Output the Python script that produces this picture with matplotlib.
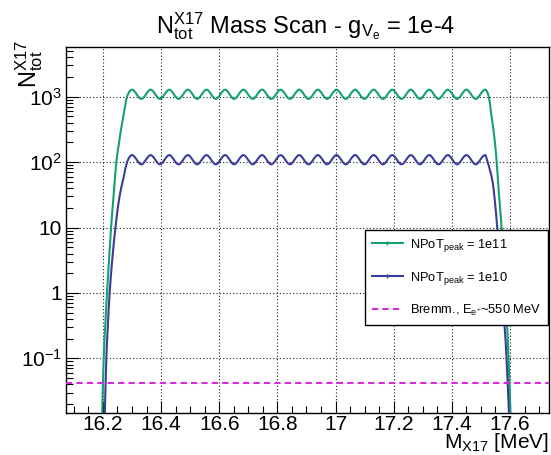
import matplotlib
matplotlib.use("Agg")
import matplotlib.pyplot as plt
import numpy as np
from matplotlib.path import Path
from matplotlib.patches import PathPatch
from matplotlib.lines import Line2D
from matplotlib.ticker import FixedLocator, FixedFormatter, MultipleLocator, LogLocator, NullFormatter

plt.rcParams["font.family"] = ["Liberation Sans", "DejaVu Sans"]
plt.rcParams["mathtext.fontset"] = "custom"
plt.rcParams["mathtext.rm"] = "Liberation Sans"
plt.rcParams["mathtext.it"] = "Liberation Sans:italic"
plt.rcParams["mathtext.default"] = "regular"

# ripple extrema (MeV), same for both NPoT settings
peak_x = [16.300, 16.364, 16.428, 16.492, 16.556, 16.620, 16.683, 16.747, 16.811, 16.875,
          16.939, 17.003, 17.067, 17.131, 17.195, 17.259, 17.322, 17.386, 17.450, 17.514]
trough_x = [16.332, 16.396, 16.460, 16.524, 16.588, 16.651, 16.715, 16.779, 16.843, 16.907,
            16.971, 17.035, 17.099, 17.163, 17.227, 17.290, 17.354, 17.418, 17.482]

# NPoT_peak = 1e11
green_peak_y = [1280, 1280, 1280, 1280, 1280, 1280, 1280, 1280, 1280, 1280,
                1280, 1280, 1280, 1280, 1280, 1280, 1280, 1280, 1280, 1280]
green_trough_y = [925, 925, 925, 925, 925, 925, 925, 925, 925, 925,
                  925, 925, 925, 925, 925, 925, 925, 925, 925]
green_rise_x = [16.197, 16.2025, 16.208, 16.214, 16.221, 16.228, 16.237, 16.246, 16.254,
                16.262, 16.272, 16.283]
green_rise_y = [0.012, 0.1, 0.32, 1, 3.2, 10, 32, 100, 180, 310, 560, 1000]
green_fall_x = [17.527, 17.535, 17.543, 17.549, 17.554, 17.562, 17.571, 17.578, 17.584,
                17.590, 17.595, 17.602]
green_fall_y = [1000, 560, 310, 180, 100, 32, 10, 3.2, 1, 0.32, 0.1, 0.012]

# NPoT_peak = 1e10
blue_peak_y = [128, 128, 128, 128, 128, 128, 128, 128, 128, 128,
               128, 128, 128, 128, 128, 128, 128, 128, 128, 128]
blue_trough_y = [92.5, 92.5, 92.5, 92.5, 92.5, 92.5, 92.5, 92.5, 92.5, 92.5,
                 92.5, 92.5, 92.5, 92.5, 92.5, 92.5, 92.5, 92.5, 92.5]
blue_rise_x = [16.206, 16.2117, 16.217, 16.223, 16.232, 16.243, 16.256, 16.271, 16.283]
blue_rise_y = [0.012, 0.1, 0.32, 1, 3.2, 10, 28, 58, 100]
blue_fall_x = [17.523, 17.531, 17.540, 17.548, 17.556, 17.565, 17.573, 17.581, 17.588, 17.597]
blue_fall_y = [100, 75, 50, 25, 10, 3.2, 1, 0.32, 0.1, 0.012]

# bremsstrahlung background, E_e+ ~ 550 MeV
bremm_level = 0.0415

x_ticks = [16.2, 16.4, 16.6, 16.8, 17.0, 17.2, 17.4, 17.6]
x_tick_labels = ["16.2", "16.4", "16.6", "16.8", "17", "17.2", "17.4", "17.6"]
y_ticks = [0.1, 1, 10, 100, 1000]
y_tick_labels = ["$10^{-1}$", "1", "10", "$10^{2}$", "$10^{3}$"]

GREEN = "#14a070"
BLUE = "#3b3b9e"
MAGENTA = "#d92ad9"


def scan_curve(rise_x, rise_y, pk_y, tr_y, fall_x, fall_y):
    """Join edges and ripple extrema; flag extrema (flat tangent)."""
    xs, ys, flat = list(rise_x), list(rise_y), [False] * len(rise_x)
    for i in range(len(peak_x)):
        xs.append(peak_x[i]); ys.append(pk_y[i]); flat.append(True)
        if i < len(trough_x):
            xs.append(trough_x[i]); ys.append(tr_y[i]); flat.append(True)
    xs += list(fall_x); ys += list(fall_y); flat += [False] * len(fall_x)
    return np.array(xs), np.array(ys), np.array(flat)


def smooth_path(xs, ys, flat):
    """Cubic bezier path through the points (hermite tangents in log y)."""
    ly = np.log10(ys)
    n = len(xs)
    m = np.zeros(n)
    for i in range(n):
        if flat[i]:
            continue
        a, b = max(i - 1, 0), min(i + 1, n - 1)
        m[i] = (ly[b] - ly[a]) / (xs[b] - xs[a])
    verts = [(xs[0], ys[0])]
    codes = [Path.MOVETO]
    for i in range(n - 1):
        dx = xs[i + 1] - xs[i]
        c1 = (xs[i] + dx / 3, 10 ** (ly[i] + m[i] * dx / 3))
        c2 = (xs[i + 1] - dx / 3, 10 ** (ly[i + 1] - m[i + 1] * dx / 3))
        verts += [c1, c2, (xs[i + 1], ys[i + 1])]
        codes += [Path.CURVE4] * 3
    return Path(verts, codes)


fig = plt.figure(figsize=(5.51, 4.55), dpi=100)
ax = fig.add_axes([0.1198, 0.0923, 0.8771, 0.8044])
ax.set_yscale("log")
ax.set_xlim(16.073, 17.735)
ax.set_ylim(0.0146, 5750)

for rx, ry, py, ty, fx, fy, col in [
        (green_rise_x, green_rise_y, green_peak_y, green_trough_y, green_fall_x, green_fall_y, GREEN),
        (blue_rise_x, blue_rise_y, blue_peak_y, blue_trough_y, blue_fall_x, blue_fall_y, BLUE)]:
    xs, ys, flat = scan_curve(rx, ry, py, ty, fx, fy)
    ax.add_patch(PathPatch(smooth_path(xs, ys, flat), fill=False, edgecolor=col,
                           linewidth=1.5, zorder=3))

ax.axhline(bremm_level, color=MAGENTA, linewidth=1.5, linestyle=(0, (3, 2)), zorder=3)

# ROOT-like axes
ax.xaxis.set_major_locator(FixedLocator(x_ticks))
ax.xaxis.set_major_formatter(FixedFormatter(x_tick_labels))
ax.xaxis.set_minor_locator(MultipleLocator(0.05))
ax.yaxis.set_major_locator(FixedLocator(y_ticks))
ax.yaxis.set_major_formatter(FixedFormatter(y_tick_labels))
ax.yaxis.set_minor_locator(LogLocator(base=10, subs=np.arange(2, 10), numticks=20))
ax.yaxis.set_minor_formatter(NullFormatter())
ax.tick_params(which="both", direction="in", top=False, right=False, width=0.8, labelsize=15)
ax.tick_params(axis="x", which="major", length=8.5, pad=1.5)
ax.tick_params(axis="x", which="minor", length=5)
ax.tick_params(axis="y", which="major", length=9.5, pad=3)
ax.tick_params(axis="y", which="minor", length=5)
for sp in ax.spines.values():
    sp.set_linewidth(1.0)
ax.grid(True, which="major", color="#222222", linewidth=0.8, linestyle=(0, (1, 2)))
ax.set_axisbelow(True)

fig.text(306 / 551, 1 - 33.5 / 455, r"$N^{X17}_{tot}$ Mass Scan - $g_{V_e}$ = 1e-4",
         ha="center", va="baseline", fontsize=17)
fig.text(549 / 551, 1 - 448 / 455, r"$M_{X17}$ [MeV]", ha="right", va="baseline", fontsize=15)
fig.text(29 / 551, 1 - 40 / 455, r"$N^{X17}_{tot}$", rotation=90, ha="center", va="top",
         fontsize=17)

handles = [Line2D([], [], color=GREEN, linewidth=1.5, marker="|", markersize=3),
           Line2D([], [], color=BLUE, linewidth=1.5, marker="|", markersize=3),
           Line2D([], [], color=MAGENTA, linewidth=1.5, linestyle=(0, (3, 2)))]
labels = [r"NPoT$_{peak}$ = 1e11", r"NPoT$_{peak}$ = 1e10", r"Bremm., $E_{e^{+}}$~550 MeV"]
leg = ax.legend(handles, labels, loc="upper left", bbox_to_anchor=(0.619, 0.5),
                borderaxespad=0, frameon=True, fancybox=False, edgecolor="black",
                framealpha=1, fontsize=9.3, handlelength=2.35, handletextpad=0.55,
                labelspacing=1.22, borderpad=0.55)
leg.get_frame().set_linewidth(1.0)
leg.set_zorder(5)

fig.savefig("out.png", dpi=100)
